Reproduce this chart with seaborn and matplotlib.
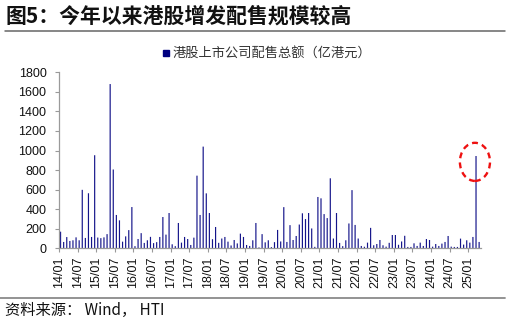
import matplotlib
matplotlib.use("Agg")
import matplotlib.pyplot as plt
from matplotlib.patches import Ellipse
from matplotlib.lines import Line2D
import numpy as np
import pandas as pd
import seaborn as sns

# Monthly placement totals of HK-listed companies (HKD 100m), Jan 2014 - Apr 2025
v2014 = [170, 65, 115, 75, 82, 112, 82, 598, 106, 563, 116, 952]
v2015 = [110, 104, 112, 145, 1680, 806, 341, 286, 68, 122, 186, 422]
v2016 = [22, 95, 155, 55, 82, 117, 53, 63, 116, 320, 140, 361]
v2017 = [41, 22, 259, 58, 116, 95, 34, 109, 743, 341, 1040, 562]
v2018 = [361, 93, 218, 56, 100, 116, 68, 29, 85, 50, 150, 116]
v2019 = [34, 24, 82, 259, 9, 145, 61, 82, 12, 63, 188, 70]
v2020 = [421, 65, 237, 85, 126, 243, 358, 299, 361, 203, 15, 525]
v2021 = [511, 350, 309, 716, 100, 361, 55, 22, 82, 254, 595, 239]
v2022 = [100, 24, 16, 58, 209, 31, 44, 85, 31, 17, 56, 136]
v2023 = [136, 36, 70, 128, 14, 14, 51, 24, 58, 24, 95, 85]
v2024 = [17, 44, 24, 48, 65, 126, 17, 14, 14, 99, 38, 82]
v2025 = [58, 116, 944, 65]

values = (v2014 + v2015 + v2016 + v2017 + v2018 + v2019 + v2020 + v2021
          + v2022 + v2023 + v2024 + v2025)
months = list(pd.period_range("2014-01", periods=len(values), freq="M").strftime("%y/%m"))
tick_labels = ["14/01", "14/07", "15/01", "15/07", "16/01", "16/07", "17/01", "17/07",
               "18/01", "18/07", "19/01", "19/07", "20/01", "20/07", "21/01", "21/07",
               "22/01", "22/07", "23/01", "23/07", "24/01", "24/07", "25/01"]
series_name = "港股上市公司配售总额（亿港元）"

df = pd.DataFrame({"month": months, "value": values})

sns.set_style("white")
plt.rcParams["font.family"] = ["Liberation Sans", "Noto Sans CJK SC", "DejaVu Sans"]
cjk = ["Noto Sans CJK SC", "DejaVu Sans"]

navy = "#14148a"
fig = plt.figure(figsize=(5.1, 3.25), dpi=100)
ax = fig.add_axes([0.1157, 0.236, 0.8268, 0.5415])

sns.barplot(data=df, x="month", y="value", order=months, color=navy, saturation=1,
            width=0.38, ax=ax, label=series_name, linewidth=0)
for p in ax.patches:
    p.set_snap(False)

ax.set_xlim(-0.5, len(values) - 0.5)
ax.set_ylim(0, 1800)
ax.set_yticks(np.arange(0, 1801, 200))
ax.tick_params(axis="y", labelsize=9, length=3, width=0.8, color="#999999",
               pad=6, left=True, labelcolor="#111111")

tick_pos = [months.index(t) - 0.5 for t in tick_labels]
ax.set_xticks(tick_pos)
ax.set_xticklabels(tick_labels, rotation=90)
ax.tick_params(axis="x", labelsize=9, length=3, width=0.8, color="#999999",
               pad=3, bottom=True, labelcolor="#111111")
ax.set_xlabel("")
ax.set_ylabel("")

for s in ["top", "right"]:
    ax.spines[s].set_visible(False)
for s in ["left", "bottom"]:
    ax.spines[s].set_color("#9a9a9a")
    ax.spines[s].set_linewidth(0.9)

# highlight the latest spike
peak = months.index("25/03")
ell = Ellipse((peak - 0.35, values[peak] - 60), width=9.7, height=390,
              fill=False, edgecolor="#ee1111", linewidth=1.7,
              linestyle=(0, (2.5, 1.8)), zorder=5, clip_on=False)
ax.add_patch(ell)

handle = Line2D([], [], marker="s", linestyle="none", markersize=5,
                markerfacecolor="#000080", markeredgecolor="#000080")
ax.legend([handle], [series_name], loc="center", frameon=False,
          bbox_to_anchor=(0.522, 0.834), bbox_transform=fig.transFigure,
          handletextpad=0.1, borderpad=0, handlelength=0.8,
          prop={"family": cjk, "size": 9.5})
for t in ax.get_legend().get_texts():
    t.set_color("#333333")

fig.text(0.01, 1 - 16.5 / 325, "图5：今年以来港股增发配售规模较高", family=cjk,
         fontsize=15, fontweight="bold", va="center", ha="left", color="#111111")
fig.add_artist(Line2D([5 / 510, 505 / 510], [1 - 31 / 325] * 2, color="#666666",
                      linewidth=1.1, transform=fig.transFigure))
fig.add_artist(Line2D([0, 505 / 510], [1 - 298.3 / 325] * 2, color="#8a8a8a",
                      linewidth=1.3, transform=fig.transFigure))
fig.text(0.01, 1 - 310 / 325, "资料来源： Wind， HTI", family=cjk, fontsize=11,
         va="center", ha="left", color="#111111")

fig.savefig("out.png", dpi=100)
